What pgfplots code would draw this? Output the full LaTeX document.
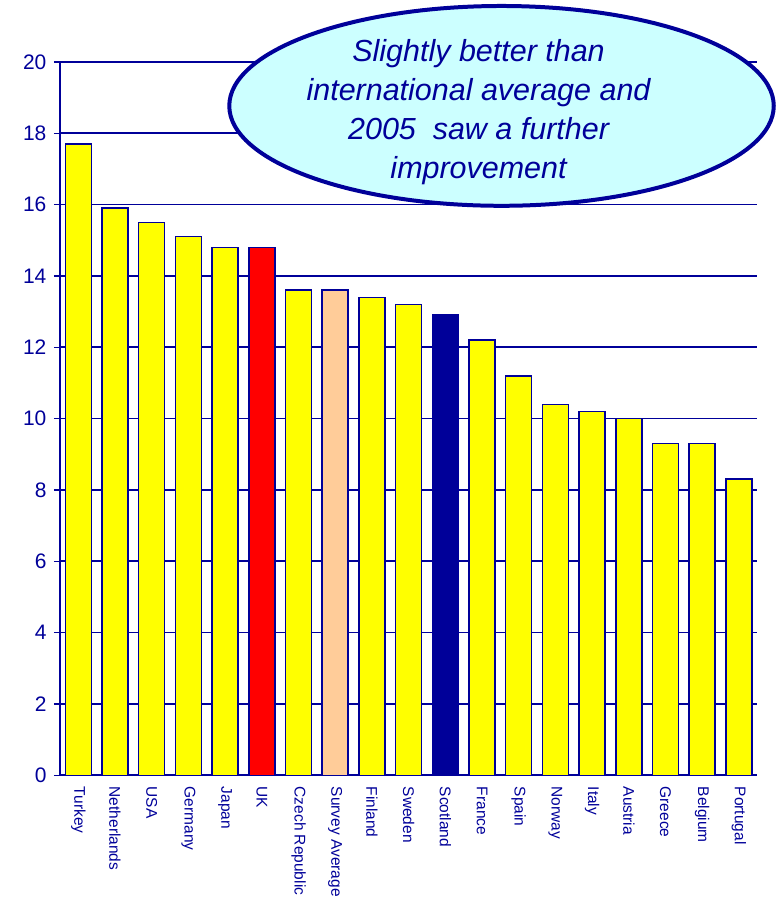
\documentclass[border=0pt]{standalone}
\usepackage{pgfplots}
\pgfplotsset{compat=1.18}
\usepackage{fontspec}
\setmainfont{Liberation Sans}
\usetikzlibrary{shapes.geometric}
\definecolor{navy}{HTML}{000099}
\definecolor{yel}{HTML}{FFFF00}
\definecolor{peach}{HTML}{FFCC99}
\definecolor{cyanlt}{HTML}{CCFFFF}
\begin{document}
\begin{tikzpicture}
\path (0,0) rectangle (779pt,900pt);
\begin{axis}[
  at={(60pt,124pt)}, anchor=south west,
  scale only axis, width=698pt, height=714pt,
  ybar, bar width=26pt,
  xmin=-0.5, xmax=18.5, ymin=0, ymax=20,
  ytick={0,2,...,20},
  xtick={0,...,18},
  xticklabels={Turkey,Netherlands,USA,Germany,Japan,UK,Czech Republic,Survey Average,Finland,Sweden,Scotland,France,Spain,Norway,Italy,Austria,Greece,Belgium,Portugal},
  axis x line*=bottom, axis y line*=left,
  axis line style={navy, line width=1.5pt, -},
  ymajorgrids, major grid style={navy, line width=1.6pt},
  tick align=outside, tick style={navy, line width=1.2pt},
  major tick length=6pt,
  x tick style={draw=none},
  /pgf/number format/assume math mode=true,
  yticklabel style={font=\fontsize{21}{22}\selectfont, text=navy, xshift=-4pt},
  xticklabel style={font=\fontsize{15.5}{16}\selectfont, text=navy, rotate=-90, anchor=west, xshift=2pt},
  clip=false,
]
\addplot[fill=yel, draw=navy, line width=1.5pt, bar shift=0pt] coordinates {
(0,17.7) (1,15.9) (2,15.5) (3,15.1) (4,14.8) (6,13.6) (8,13.4) (9,13.2) (11,12.2) (12,11.2) (13,10.4) (14,10.2) (15,10.0) (16,9.3) (17,9.3) (18,8.3)};
\addplot[fill=red, draw=navy, line width=1.5pt, bar shift=0pt] coordinates {(5,14.8)};
\addplot[fill=peach, draw=navy, line width=1.5pt, bar shift=0pt] coordinates {(7,13.6)};
\addplot[fill=navy, draw=navy, line width=1.5pt, bar shift=0pt] coordinates {(10,12.9)};
\end{axis}
\node[ellipse, draw=navy, line width=4pt, fill=cyanlt, minimum width=545pt, minimum height=200pt, inner sep=0pt] at (502pt,794pt) {};
\node[align=center, text=navy, font=\fontsize{30.5}{39}\selectfont\itshape] at (479pt,788pt) {Slightly better than\\international average and\\2005\ \ saw a further\\improvement};
\end{tikzpicture}
\end{document}
